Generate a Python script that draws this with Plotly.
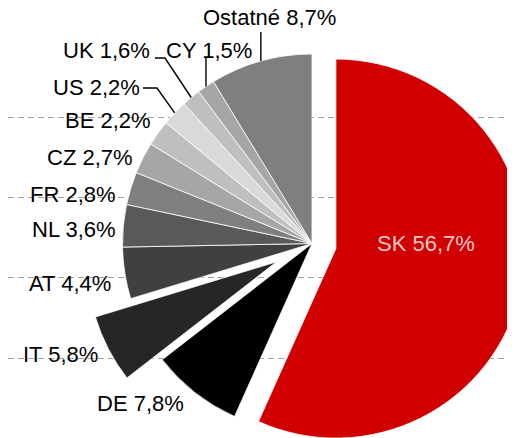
import math
import plotly.graph_objects as go

# ---- data ----
countries = ["SK", "DE", "IT", "AT", "NL", "FR", "CZ", "BE", "US", "UK", "CY", "Ostatné"]
shares = [56.7, 7.8, 5.8, 4.4, 3.6, 2.8, 2.7, 2.2, 2.2, 1.6, 1.5, 8.7]

# ---- styles ----
colors = ["#d00000", "#000000", "#262626", "#404040", "#595959", "#7f7f7f",
          "#a6a6a6", "#bfbfbf", "#d9d9d9", "#bfbfbf", "#a6a6a6", "#7f7f7f"]
pulls = [0.129, 0, 0.21, 0, 0, 0, 0, 0, 0, 0, 0, 0]
grid_y = [117, 197, 277, 358]
FONT = "Liberation Sans, Arial, sans-serif"
FS = 22

# ---- layout geometry (window pixels) ----
OFF = 8  # page body margin
CX, CY, R = 312.0, 243.5, 189.5
HB = R * (1 + max(pulls))
W = int(math.ceil(CX - OFF + HB))
H = int(math.ceil(CY - OFF + HB))

# label placement: left edge x, cap-centre y
label_pos = {
    "SK": (377, 243.5), "DE": (97, 403.5), "IT": (23, 354), "AT": (29, 283),
    "NL": (32, 229.5), "FR": (30, 194.5), "CZ": (47, 157), "BE": (65, 120),
    "US": (53, 87.5), "UK": (63, 50), "CY": (166, 50), "Ostatné": (203, 17),
}
# leader-line elbow points (end point comes from the slice angle)
leaders = {
    "Ostatné": [("v", 32)],
    "CY": [("v", 58)],
    "UK": [(155, 58), (165, 58)],
    "US": [(143, 88), (157, 88)],
}

texts = [f"{c} {('%.1f' % v).replace('.', ',')}%" for c, v in zip(countries, shares)]

# slice mid angles (clockwise from 12 o'clock)
total = sum(shares)
mid = {}
cum = 0.0
for c, v in zip(countries, shares):
    mid[c] = (cum + v / 2) / total * 2 * math.pi
    cum += v


def edge_point(c):
    a = mid[c]
    return CX + R * math.sin(a), CY - R * math.cos(a)


cxf, cyf = CX - OFF, CY - OFF
fig = go.Figure()
fig.add_trace(go.Scatter(x=[], y=[], showlegend=False, hoverinfo="skip"))
fig.add_trace(go.Pie(
    labels=countries, values=shares, sort=False, direction="clockwise",
    rotation=0, pull=pulls, textinfo="none", hoverinfo="label+percent",
    marker=dict(colors=colors, line=dict(color="white", width=0.8)),
    domain=dict(x=[(cxf - HB) / W, (cxf + HB) / W],
                y=[1 - (cyf + HB) / H, 1 - (cyf - HB) / H]),
    showlegend=False,
))

annotations = []
for c, t in zip(countries, texts):
    x, y = label_pos[c]
    annotations.append(dict(
        x=x - 2, y=y, xref="x", yref="y", text=t, showarrow=False,
        xanchor="left", yanchor="middle",
        font=dict(family=FONT, size=FS, color="#f4c8c8" if c == "SK" else "#000000"),
    ))

shapes = []
for c, pts in leaders.items():
    ex, ey = edge_point(c)
    if pts[0][0] == "v":
        path = f"M {ex},{pts[0][1]} L {ex},{ey}"
    else:
        path = "M " + " L ".join(f"{px},{py}" for px, py in pts) + f" L {ex},{ey}"
    shapes.append(dict(type="path", path=path, xref="x", yref="y",
                       line=dict(color="#000000", width=1.4), layer="above"))

fig.update_layout(
    width=W, height=H,
    margin=dict(l=0, r=0, t=0, b=0, pad=0),
    paper_bgcolor="white", plot_bgcolor="white",
    xaxis=dict(range=[OFF, W + OFF], visible=False, fixedrange=True),
    yaxis=dict(range=[H + OFF, OFF], showticklabels=False, ticks="", showline=False,
               zeroline=False, showgrid=True, tickvals=grid_y,
               gridcolor="#a0a0a0", gridwidth=1, griddash="6px,4px", fixedrange=True),
    annotations=annotations,
    shapes=shapes,
    showlegend=False,
)

fig.write_html("out.html")
